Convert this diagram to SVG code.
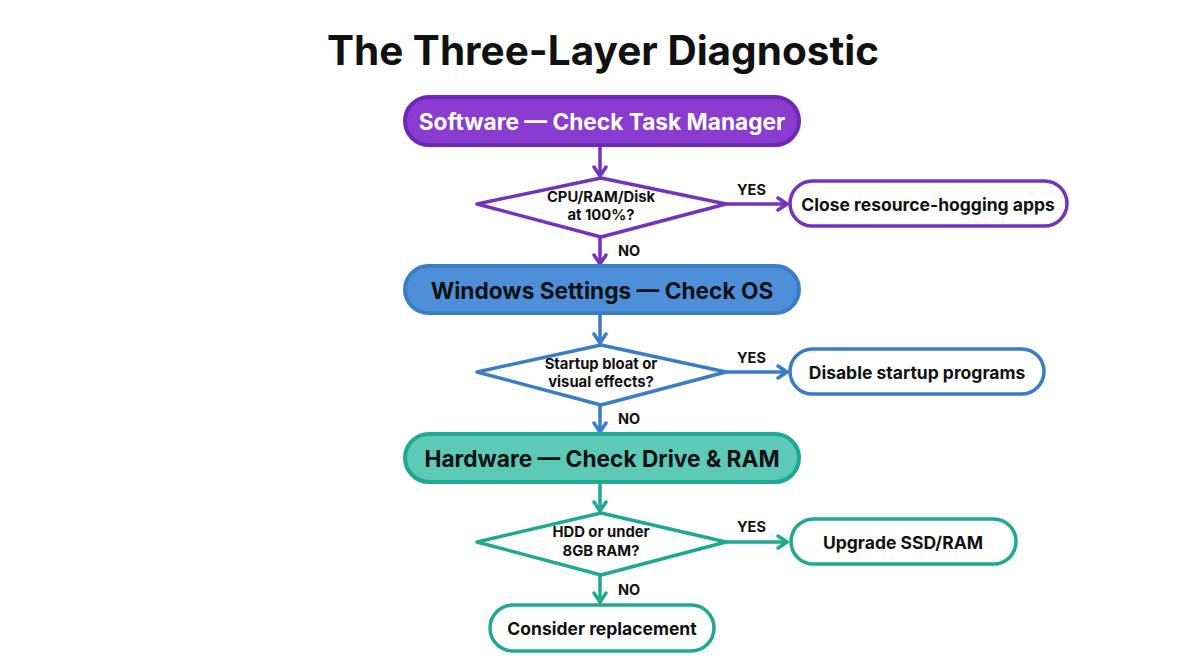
<svg xmlns="http://www.w3.org/2000/svg" width="1204" height="672" viewBox="0 0 1204 672">
<defs>
<style>
.title{font-family:Inter,"Liberation Sans",sans-serif;font-weight:700;font-size:40.5px;fill:#111;}
.head{font-family:Inter,"Liberation Sans",sans-serif;font-weight:700;font-size:22.7px;text-anchor:middle;dominant-baseline:central;}
.dtxt{font-family:Inter,"Liberation Sans",sans-serif;font-weight:700;font-size:14.8px;fill:#111;text-anchor:middle;}
.btxt{font-family:Inter,"Liberation Sans",sans-serif;font-weight:700;font-size:17.5px;fill:#111;text-anchor:middle;dominant-baseline:central;}
.lbl{font-family:Inter,"Liberation Sans",sans-serif;font-weight:700;font-size:14.5px;fill:#111;}
.conn{fill:none;stroke-width:3.5;stroke-linecap:round;}
</style>
<marker id="ap" viewBox="0 0 16 16" refX="13" refY="8" markerWidth="16" markerHeight="16" markerUnits="userSpaceOnUse" orient="auto"><path d="M4,2 L13,8 L4,14" fill="none" stroke="#7433bd" stroke-width="3.5" stroke-linecap="round" stroke-linejoin="round"/></marker>
<marker id="ab" viewBox="0 0 16 16" refX="13" refY="8" markerWidth="16" markerHeight="16" markerUnits="userSpaceOnUse" orient="auto"><path d="M4,2 L13,8 L4,14" fill="none" stroke="#3a7cc6" stroke-width="3.5" stroke-linecap="round" stroke-linejoin="round"/></marker>
<marker id="at" viewBox="0 0 16 16" refX="13" refY="8" markerWidth="16" markerHeight="16" markerUnits="userSpaceOnUse" orient="auto"><path d="M4,2 L13,8 L4,14" fill="none" stroke="#1fa892" stroke-width="3.5" stroke-linecap="round" stroke-linejoin="round"/></marker>
</defs>
<rect width="1204" height="672" fill="#fff"/>
<text class="title" x="603" y="65" text-anchor="middle">The Three-Layer Diagnostic</text>

<g id="connectors">
<line class="conn" x1="600" y1="146" x2="600" y2="176" stroke="#7433bd" marker-end="url(#ap)"/>
<line class="conn" x1="726" y1="204" x2="787" y2="204" stroke="#7433bd" marker-end="url(#ap)"/>
<text class="lbl" x="737" y="195">YES</text>
<line class="conn" x1="600" y1="237" x2="600" y2="264" stroke="#7433bd" marker-end="url(#ap)"/>
<text class="lbl" x="618" y="256">NO</text>

<line class="conn" x1="600" y1="314" x2="600" y2="343" stroke="#3a7cc6" marker-end="url(#ab)"/>
<line class="conn" x1="726" y1="372" x2="787" y2="372" stroke="#3a7cc6" marker-end="url(#ab)"/>
<text class="lbl" x="737" y="363">YES</text>
<line class="conn" x1="600" y1="405" x2="600" y2="432" stroke="#3a7cc6" marker-end="url(#ab)"/>
<text class="lbl" x="618" y="424">NO</text>

<line class="conn" x1="600" y1="483" x2="600" y2="511" stroke="#1fa892" marker-end="url(#at)"/>
<line class="conn" x1="726" y1="542" x2="787" y2="542" stroke="#1fa892" marker-end="url(#at)"/>
<text class="lbl" x="737" y="532">YES</text>
<line class="conn" x1="600" y1="575" x2="600" y2="602" stroke="#1fa892" marker-end="url(#at)"/>
<text class="lbl" x="618" y="595">NO</text>
</g>

<g id="software">
<rect x="405" y="97" width="394" height="48" rx="24" fill="#8a3cd0" stroke="#6e26b8" stroke-width="4"/>
<text class="head" x="602" y="121" fill="#fff">Software — Check Task Manager</text>
</g>
<g id="q1">
<polygon points="601,178 726,204 601,237 477,204" fill="#fff" stroke="#7433bd" stroke-width="3.5" stroke-linejoin="round"/>
<text class="dtxt" x="601" y="202">CPU/RAM/Disk</text>
<text class="dtxt" x="601" y="220">at 100%?</text>
</g>
<g id="close-apps">
<rect x="790" y="181" width="277" height="45" rx="22.5" fill="#fff" stroke="#7433bd" stroke-width="3.5"/>
<text class="btxt" x="928" y="204">Close resource-hogging apps</text>
</g>

<g id="windows">
<rect x="405" y="266" width="394" height="47" rx="23.5" fill="#4d8fd8" stroke="#3a7cc6" stroke-width="4"/>
<text class="head" x="602" y="290" fill="#111">Windows Settings — Check OS</text>
</g>
<g id="q2">
<polygon points="601,345 726,372 601,405 477,372" fill="#fff" stroke="#3a7cc6" stroke-width="3.5" stroke-linejoin="round"/>
<text class="dtxt" x="601" y="369">Startup bloat or</text>
<text class="dtxt" x="601" y="387">visual effects?</text>
</g>
<g id="disable-startup">
<rect x="790" y="349" width="254" height="45" rx="22.5" fill="#fff" stroke="#3a7cc6" stroke-width="3.5"/>
<text class="btxt" x="917" y="372">Disable startup programs</text>
</g>

<g id="hardware">
<rect x="405" y="434" width="394" height="48" rx="24" fill="#5ccab7" stroke="#1fa892" stroke-width="4"/>
<text class="head" x="602" y="458" fill="#111">Hardware — Check Drive &amp; RAM</text>
</g>
<g id="q3">
<polygon points="601,513 726,542 601,575 477,542" fill="#fff" stroke="#1fa892" stroke-width="3.5" stroke-linejoin="round"/>
<text class="dtxt" x="601" y="537">HDD or under</text>
<text class="dtxt" x="601" y="556">8GB RAM?</text>
</g>
<g id="upgrade">
<rect x="791" y="519" width="225" height="45" rx="22.5" fill="#fff" stroke="#1fa892" stroke-width="3.5"/>
<text class="btxt" x="903" y="542">Upgrade SSD/RAM</text>
</g>
<g id="replacement">
<rect x="490" y="605" width="224" height="46" rx="23" fill="#fff" stroke="#1fa892" stroke-width="3.5"/>
<text class="btxt" x="602" y="628">Consider replacement</text>
</g>
</svg>
